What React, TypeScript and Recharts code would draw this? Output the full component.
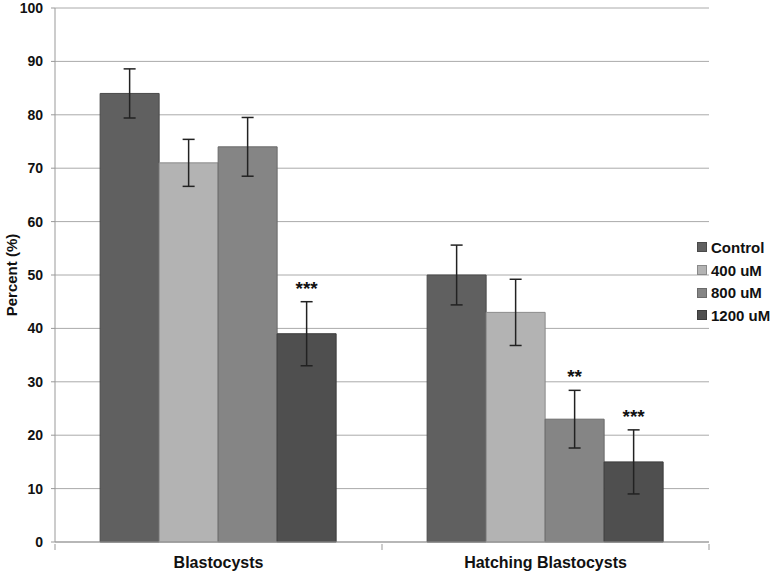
import { BarChart, Bar, XAxis, YAxis, CartesianGrid, ErrorBar, LabelList } from "recharts"

const categories = ["Blastocysts", "Hatching Blastocysts"]
const seriesNames = ["Control", "400 uM", "800 uM", "1200 uM"]
const controlValues = [84, 50]
const controlErrors = [4.6, 5.6]
const uM400Values = [71, 43]
const uM400Errors = [4.4, 6.2]
const uM800Values = [74, 23]
const uM800Errors = [5.5, 5.4]
const uM1200Values = [39, 15]
const uM1200Errors = [6, 6]
const uM800Sig = ["", "**"]
const uM1200Sig = ["***", "***"]
const yTicks = [0, 10, 20, 30, 40, 50, 60, 70, 80, 90, 100]

const colors = ["#606060", "#b3b3b3", "#858585", "#4f4f4f"]
const strokes = ["#4a4a4a", "#8a8a8a", "#6a6a6a", "#3c3c3c"]
const font = "'Liberation Sans', Arial, sans-serif"

const W = 780
const H = 572
const margin = { top: 8, right: 71, bottom: 0, left: 0 }
const yAxisWidth = 55
const xAxisHeight = 30

const data = categories.map((name, i) => ({
  name,
  control: controlValues[i],
  controlErr: controlErrors[i],
  uM400: uM400Values[i],
  uM400Err: uM400Errors[i],
  uM800: uM800Values[i],
  uM800Err: uM800Errors[i],
  uM800Sig: uM800Sig[i],
  uM1200: uM1200Values[i],
  uM1200Err: uM1200Errors[i],
  uM1200Sig: uM1200Sig[i],
}))

const keys = ["control", "uM400", "uM800", "uM1200"]

const bandWidth = (W - margin.left - margin.right - yAxisWidth) / categories.length

function CategoryTick(props: any) {
  const { x, y, payload, index } = props
  const axisY = y - 6
  return (
    <g>
      <line x1={x - bandWidth / 2} x2={x - bandWidth / 2} y1={axisY} y2={axisY + 6} stroke="#999" />
      {index === categories.length - 1 && (
        <line x1={x + bandWidth / 2} x2={x + bandWidth / 2} y1={axisY} y2={axisY + 6} stroke="#999" />
      )}
      <text x={x} y={axisY + 24} textAnchor="middle" fontSize={16} fontWeight="bold" fill="#111" fontFamily={font}>
        {payload.value}
      </text>
    </g>
  )
}

function sigLabel(valueKey: string, errKey: string) {
  return (props: any) => {
    const { x, y, width, height, value, index } = props
    if (!value) return null
    const row: any = data[index]
    const ppu = height / row[valueKey]
    const top = y - row[errKey] * ppu
    return (
      <text x={x + width / 2} y={top - 7} textAnchor="middle" fontSize={19} fontWeight="bold" fill="#111" fontFamily={font}>
        {value}
      </text>
    )
  }
}

export default function App() {
  return (
    <div style={{ position: "absolute", left: 0, top: 0, width: W, height: H, background: "#fff", fontFamily: font }}>
      <BarChart width={W} height={H} data={data} margin={margin} barCategoryGap="13.8%" barGap={0}>
        <CartesianGrid vertical={false} stroke="#aaa" />
        <XAxis
          dataKey="name"
          height={xAxisHeight}
          stroke="#999"
          tickLine={false}
          tick={<CategoryTick />}
        />
        <YAxis
          width={yAxisWidth}
          domain={[0, 100]}
          ticks={yTicks}
          interval={0}
          stroke="#999"
          tickSize={4}
          tickMargin={8}
          tick={{ fontSize: 14, fontWeight: "bold", fill: "#111", fontFamily: font }}
          label={{
            value: "Percent (%)",
            angle: -90,
            position: "insideLeft",
            dx: 7,
            style: { textAnchor: "middle", fontSize: 15, fontWeight: "bold", fill: "#111", fontFamily: font },
          }}
        />
        {keys.map((k, i) => (
          <Bar key={k} dataKey={k} name={seriesNames[i]} fill={colors[i]} stroke={strokes[i]} strokeWidth={1} isAnimationActive={false}>
            <ErrorBar dataKey={`${k}Err`} width={6} stroke="#222" strokeWidth={1.5} />
            {(k === "uM800" || k === "uM1200") && (
              <LabelList dataKey={`${k}Sig`} content={sigLabel(k, `${k}Err`)} />
            )}
          </Bar>
        ))}
      </BarChart>
      <div style={{ position: "absolute", left: 697, top: 236 }}>
        {seriesNames.map((n, i) => (
          <div key={n} style={{ display: "flex", alignItems: "center", height: 22.7, fontSize: 15, fontWeight: "bold", color: "#111" }}>
            <span style={{ display: "inline-block", width: 8, height: 8, background: colors[i], border: `1px solid ${strokes[i]}`, marginRight: 4 }} />
            {n}
          </div>
        ))}
      </div>
    </div>
  )
}
